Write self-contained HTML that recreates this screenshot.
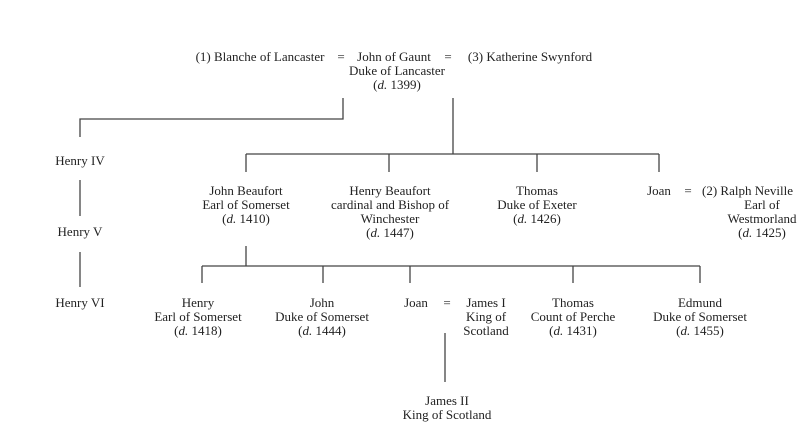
<!DOCTYPE html>
<html><head><style>
html,body{margin:0;padding:0;background:#fff;}
svg text{font-family:"Liberation Serif",serif;font-size:13px;fill:#222;}
</style></head><body>
<svg width="800" height="422" xmlns="http://www.w3.org/2000/svg">
<g stroke="#444" stroke-width="1.3" fill="none">
<polyline points="343,98 343,119 80,119 80,137"/>
<line x1="80" y1="180" x2="80" y2="216"/>
<line x1="80" y1="252" x2="80" y2="287"/>
<line x1="453" y1="98" x2="453" y2="154"/>
<line x1="246" y1="154" x2="659" y2="154"/>
<line x1="246" y1="154" x2="246" y2="172"/>
<line x1="389" y1="154" x2="389" y2="172"/>
<line x1="537" y1="154" x2="537" y2="172"/>
<line x1="659" y1="154" x2="659" y2="172"/>
<line x1="246" y1="246" x2="246" y2="266"/>
<line x1="202" y1="266" x2="700" y2="266"/>
<line x1="202" y1="266" x2="202" y2="283"/>
<line x1="323" y1="266" x2="323" y2="283"/>
<line x1="410" y1="266" x2="410" y2="283"/>
<line x1="573" y1="266" x2="573" y2="283"/>
<line x1="700" y1="266" x2="700" y2="283"/>
<line x1="445" y1="333" x2="445" y2="382"/>
</g>
<g text-anchor="middle">
<text x="260" y="61">(1) Blanche of Lancaster</text>
<text x="341" y="61">=</text>
<text x="394" y="61">John of Gaunt</text>
<text x="448" y="61">=</text>
<text x="530" y="61">(3) Katherine Swynford</text>
<text x="397" y="75">Duke of Lancaster</text>
<text x="397" y="89">(<tspan font-style="italic">d.</tspan> 1399)</text>

<text x="80" y="165">Henry IV</text>
<text x="80" y="236">Henry V</text>
<text x="80" y="307">Henry VI</text>

<text x="246" y="195">John Beaufort</text>
<text x="246" y="209">Earl of Somerset</text>
<text x="246" y="223">(<tspan font-style="italic">d.</tspan> 1410)</text>
<text x="390" y="195">Henry Beaufort</text>
<text x="390" y="209">cardinal and Bishop of</text>
<text x="390" y="223">Winchester</text>
<text x="390" y="237">(<tspan font-style="italic">d.</tspan> 1447)</text>
<text x="537" y="195">Thomas</text>
<text x="537" y="209">Duke of Exeter</text>
<text x="537" y="223">(<tspan font-style="italic">d.</tspan> 1426)</text>
<text x="659" y="195">Joan</text>
<text x="688" y="195">=</text>
<text x="762" y="209">Earl of</text>
<text x="762" y="223">Westmorland</text>
<text x="762" y="237">(<tspan font-style="italic">d.</tspan> 1425)</text>

<text x="198" y="307">Henry</text>
<text x="198" y="321">Earl of Somerset</text>
<text x="198" y="335">(<tspan font-style="italic">d.</tspan> 1418)</text>
<text x="322" y="307">John</text>
<text x="322" y="321">Duke of Somerset</text>
<text x="322" y="335">(<tspan font-style="italic">d.</tspan> 1444)</text>
<text x="416" y="307">Joan</text>
<text x="447" y="307">=</text>
<text x="486" y="307">James I</text>
<text x="486" y="321">King of</text>
<text x="486" y="335">Scotland</text>
<text x="573" y="307">Thomas</text>
<text x="573" y="321">Count of Perche</text>
<text x="573" y="335">(<tspan font-style="italic">d.</tspan> 1431)</text>
<text x="700" y="307">Edmund</text>
<text x="700" y="321">Duke of Somerset</text>
<text x="700" y="335">(<tspan font-style="italic">d.</tspan> 1455)</text>
<text x="447" y="405">James II</text>
<text x="447" y="419">King of Scotland</text>
</g>
<text x="702" y="195">(2) Ralph Neville</text>
</svg>
</body></html>
